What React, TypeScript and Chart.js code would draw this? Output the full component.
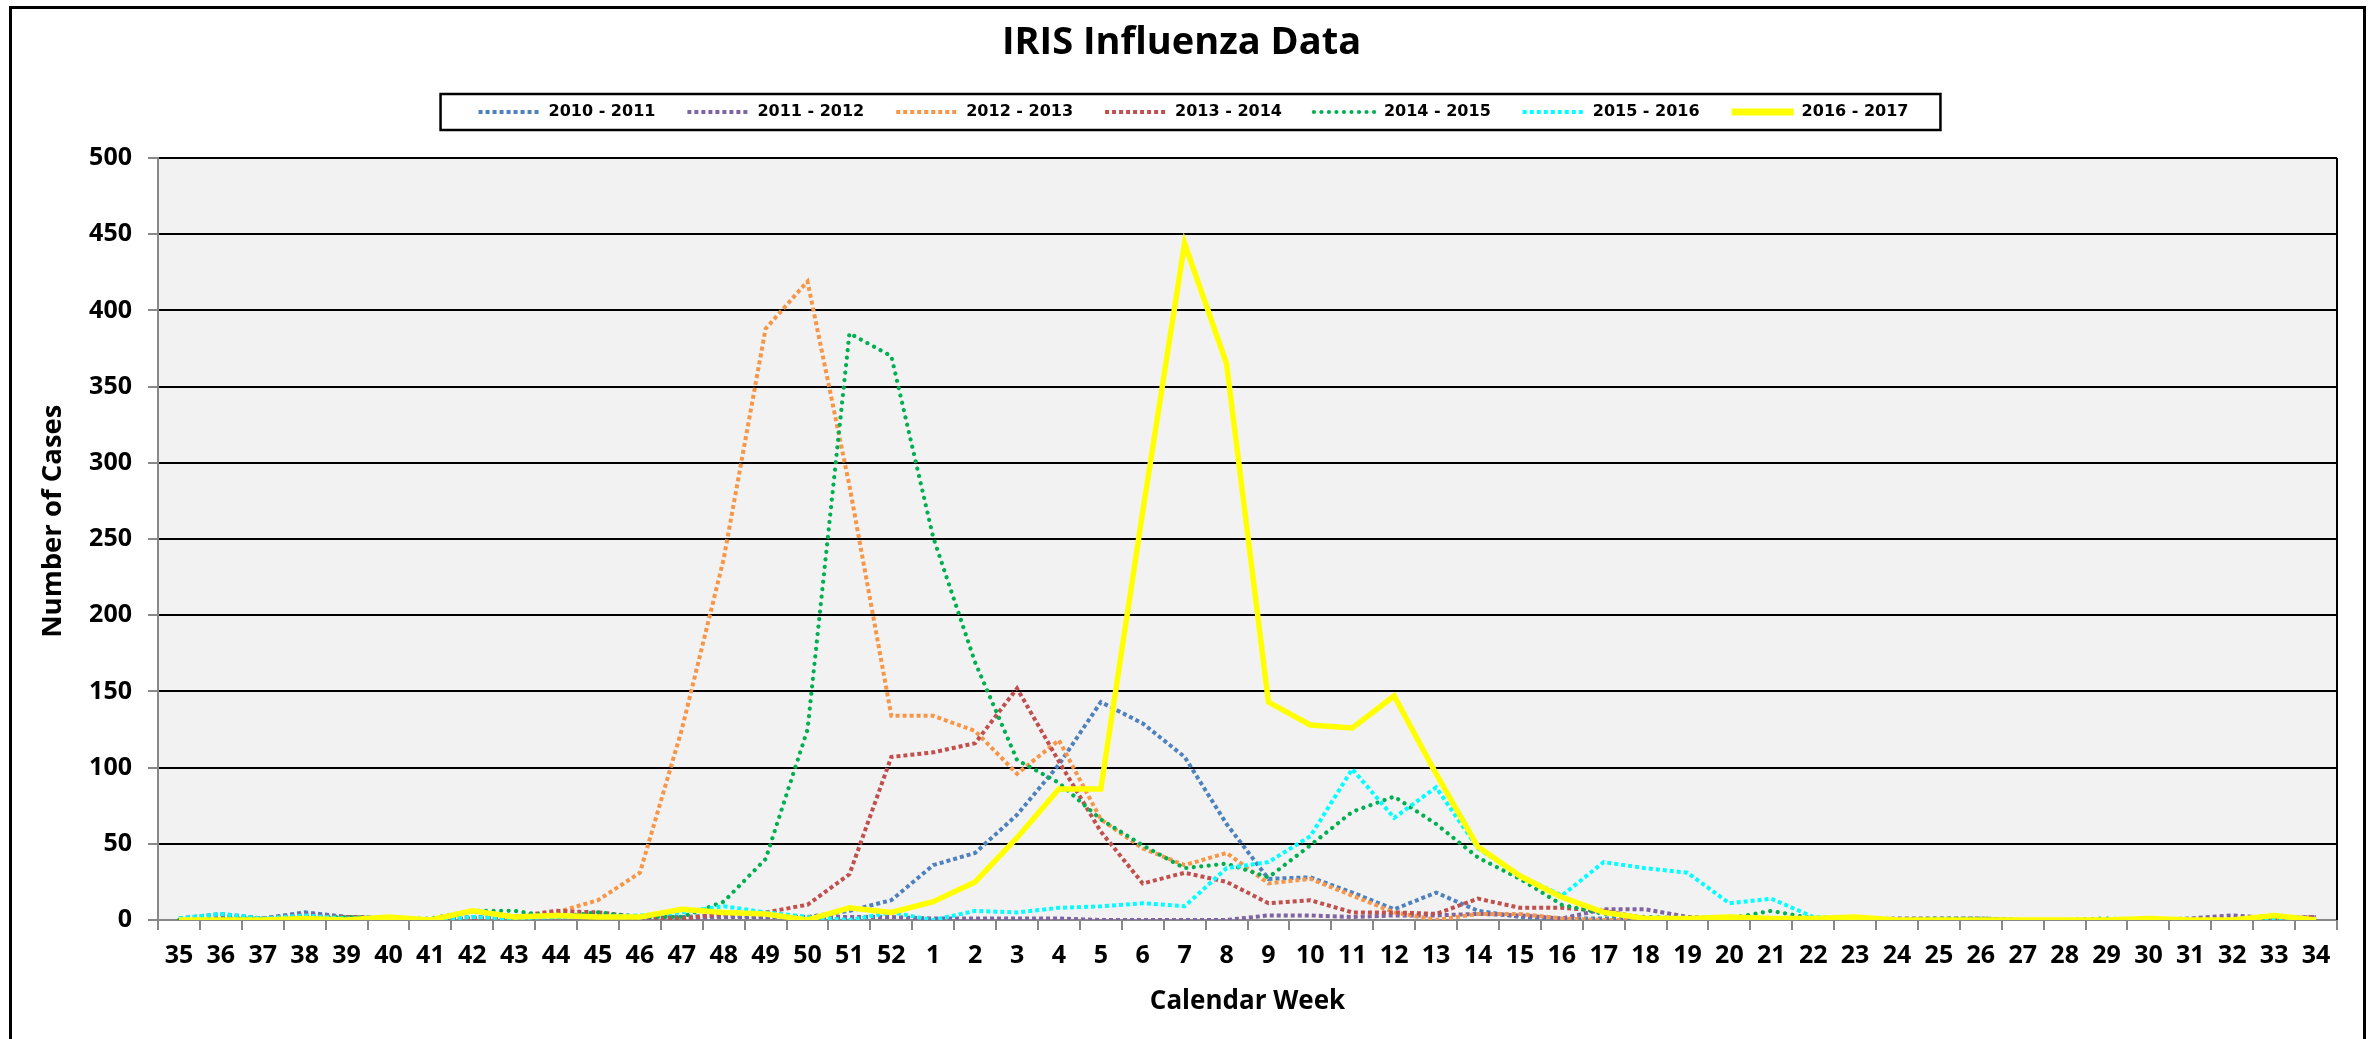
import React, { useEffect, useRef } from 'react';
import { Chart, registerables } from 'chart.js';

Chart.register(...registerables);

const weeks = [
  '35', '36', '37', '38', '39', '40', '41', '42', '43', '44', '45', '46', '47', '48', '49', '50', '51', '52',
  '1', '2', '3', '4', '5', '6', '7', '8', '9', '10', '11', '12', '13', '14', '15', '16', '17',
  '18', '19', '20', '21', '22', '23', '24', '25', '26', '27', '28', '29', '30', '31', '32', '33', '34',
];

const s2010 = [1, 4, 1, 5, 2, 1, 0, 2, 2, 3, 3, 2, 2, 3, 2, 2, 6, 13, 36, 44, 69, 102, 143, 129, 107, 63, 27, 28, 18, 7, 18, 6, 2, 1, 1, 1, 0, 0, 0, 0, 0, 0, 0, 0, 0, 0, 0, 0, 0, 0, 0, 1];
const s2011 = [0, 3, 1, 4, 2, 1, 0, 1, 1, 2, 2, 1, 1, 2, 2, 2, 2, 2, 1, 1, 1, 1, 0, 0, 0, 0, 3, 3, 2, 3, 3, 4, 3, 1, 7, 7, 2, 1, 1, 0, 0, 1, 1, 1, 0, 0, 0, 0, 1, 3, 1, 2];
const s2012 = [0, 1, 0, 1, 1, 0, 0, 1, 2, 5, 13, 31, 125, 237, 388, 419, 285, 134, 134, 124, 96, 118, 66, 47, 36, 44, 24, 27, 16, 5, 0, 4, 4, 1, 0, 0, 0, 0, 0, 0, 0, 0, 0, 0, 0, 0, 0, 0, 0, 0, 0, 0];
const s2013 = [0, 1, 1, 2, 2, 1, 0, 1, 2, 6, 5, 2, 1, 4, 5, 10, 30, 107, 110, 116, 152, 104, 58, 24, 31, 25, 11, 13, 5, 5, 4, 14, 8, 8, 6, 1, 0, 0, 0, 0, 0, 0, 0, 0, 0, 0, 0, 0, 0, 0, 1, 2];
const s2014 = [0, 1, 1, 1, 2, 1, 1, 6, 6, 2, 5, 2, 2, 12, 40, 125, 385, 370, 251, 169, 105, 90, 66, 49, 34, 37, 28, 49, 71, 81, 63, 41, 27, 10, 4, 2, 1, 1, 6, 1, 0, 0, 1, 1, 0, 0, 1, 0, 0, 0, 0, 0];
const s2015 = [1, 4, 1, 3, 1, 1, 0, 2, 1, 2, 2, 3, 5, 9, 5, 2, 0, 5, 0, 6, 5, 8, 9, 11, 9, 34, 38, 55, 99, 67, 87, 47, 29, 16, 38, 34, 31, 11, 14, 2, 1, 0, 0, 0, 0, 0, 0, 0, 0, 0, 0, 0];
const s2016 = [0, 0, 0, 1, 0, 2, 0, 6, 2, 3, 2, 2, 7, 5, 4, 0, 8, 5, 12, 25, 54, 86, 86, 268, 444, 365, 143, 128, 126, 147, 96, 48, 29, 15, 5, 1, 1, 2, 1, 1, 2, 0, 0, 0, 0, 0, 0, 1, 0, 0, 3, 0];

const seriesNames = ['2010 - 2011', '2011 - 2012', '2012 - 2013', '2013 - 2014', '2014 - 2015', '2015 - 2016', '2016 - 2017'];
const seriesColors = ['#4F81BD', '#8064A2', '#F79646', '#C0504D', '#00B050', '#00FFFF', '#FFFF00'];
const seriesData = [s2010, s2011, s2012, s2013, s2014, s2015, s2016];

const LEGEND_SHIFT = 12;

const plotPlugin = {
  id: 'plotDecor',
  afterLayout(chart: any) {
    const lg = chart.legend;
    if (lg) {
      lg.left += LEGEND_SHIFT;
      lg.right += LEGEND_SHIFT;
    }
  },
  beforeDraw(chart: any) {
    const { ctx, chartArea: a } = chart;
    ctx.save();
    ctx.fillStyle = '#F2F2F2';
    ctx.fillRect(a.left, a.top, a.right - a.left, a.bottom - a.top);
    ctx.restore();
  },
  afterDraw(chart: any) {
    const { ctx, chartArea: a } = chart;
    ctx.save();
    ctx.strokeStyle = '#000';
    ctx.lineWidth = 2;
    ctx.beginPath();
    ctx.moveTo(a.right, a.top);
    ctx.lineTo(a.right, a.bottom);
    ctx.stroke();
    const lg = chart.legend;
    if (lg && lg.legendHitBoxes && lg.legendHitBoxes.length) {
      let minX = Infinity, maxX = -Infinity, minY = Infinity, maxY = -Infinity;
      lg.legendHitBoxes.forEach((b: any) => {
        minX = Math.min(minX, b.left);
        maxX = Math.max(maxX, b.left + b.width);
        minY = Math.min(minY, b.top);
        maxY = Math.max(maxY, b.top + b.height);
      });
      const cy = (minY + maxY) / 2;
      ctx.lineWidth = 2.5;
      ctx.strokeStyle = '#000';
      ctx.strokeRect(minX - 38, cy - 18, maxX - minX + 70, 36);
    }
    ctx.restore();
  },
};

export default function App() {
  const ref = useRef<HTMLCanvasElement | null>(null);

  useEffect(() => {
    if (!ref.current) return;
    const datasets = seriesData.map((d, i) => {
      const isLast = i === seriesData.length - 1;
      const isGreen = i === 4;
      return {
        label: seriesNames[i],
        data: d,
        borderColor: seriesColors[i],
        backgroundColor: seriesColors[i],
        borderWidth: isLast ? 5.5 : isGreen ? 4.2 : 4,
        borderDash: isLast ? [] : isGreen ? [0.01, 7.5] : [4, 3],
        borderCapStyle: isGreen ? 'round' : 'butt',
        pointRadius: 0,
        pointHoverRadius: 0,
        tension: 0,
        fill: false,
        order: seriesData.length - 1 - i,
      };
    });

    const tickFont = { family: 'Open Sans', size: 25, weight: 'bold' as const };
    const baseGen = (Chart as any).defaults.plugins.legend.labels.generateLabels;

    const chart = new Chart(ref.current, {
      type: 'line',
      data: { labels: weeks, datasets: datasets as any },
      plugins: [plotPlugin],
      options: {
        animation: false,
        responsive: false,
        devicePixelRatio: 1,
        layout: { padding: { left: 14, right: 26, top: 0, bottom: 0 } },
        plugins: {
          title: {
            display: true,
            text: 'IRIS Influenza Data',
            color: '#000',
            font: { family: 'Open Sans', size: 38, weight: 'bold' },
            padding: { top: 11, bottom: 6.4 },
          },
          subtitle: {
            display: true,
            text: ' ',
            font: { size: 10 },
            padding: { top: 8, bottom: 8 },
            weight: 500,
          } as any,
          legend: {
            display: true,
            position: 'top',
            labels: {
              color: '#000',
              font: { family: 'DejaVu Sans', size: 16, weight: 'bold' },
              padding: 32,
              usePointStyle: true,
              pointStyle: 'line',
              pointStyleWidth: 62,
              sort: (a: any, b: any) => a.datasetIndex - b.datasetIndex,
              generateLabels: (ch: any) => {
                const items = baseGen(ch);
                return items.map((it: any) => {
                  const ds = ch.data.datasets[it.datasetIndex];
                  return {
                    ...it,
                    lineDash: ds.borderDash,
                    lineCap: ds.borderCapStyle,
                    lineWidth: it.datasetIndex === 6 ? 7 : ds.borderWidth,
                    strokeStyle: ds.borderColor,
                    fillStyle: ds.borderColor,
                  };
                });
              },
            },
          },
          tooltip: { enabled: false },
        },
        scales: {
          x: {
            type: 'category',
            offset: true,
            grid: {
              display: true,
              drawOnChartArea: false,
              drawTicks: true,
              tickLength: 10,
              color: '#888',
              tickColor: '#888',
              lineWidth: 2,
              offset: true,
            },
            border: { display: true, color: '#888', width: 2 },
            ticks: { color: '#000', font: tickFont, padding: 11, autoSkip: false, maxRotation: 0, minRotation: 0 },
            title: {
              display: true,
              text: 'Calendar Week',
              color: '#000',
              font: { family: 'Open Sans', size: 26, weight: 'bold' },
              padding: { top: 0, bottom: 26 },
            },
            afterFit: (s: any) => { s.height = 123; },
          },
          y: {
            min: 0,
            max: 500,
            grid: { color: '#000', lineWidth: 2, tickColor: '#888', tickLength: 10, drawTicks: true },
            border: { display: true, color: '#888', width: 2 },
            ticks: { stepSize: 50, color: '#000', font: tickFont, padding: 16 },
            title: {
              display: true,
              text: '     Number of Cases',
              color: '#000',
              font: { family: 'Open Sans', size: 27.5, weight: 'bold' },
              padding: { top: 10.5, bottom: 0 },
            },
            afterFit: (s: any) => { s.width = 132; },
          },
        },
      } as any,
    });
    return () => chart.destroy();
  }, []);

  return (
    <div
      style={{
        position: 'fixed',
        left: 9,
        top: 6,
        width: 2357,
        height: 1040,
        border: '3px solid #000',
        boxSizing: 'border-box',
        background: '#fff',
        overflow: 'hidden',
      }}
    >
      <canvas ref={ref} width={2351} height={1034} style={{ display: 'block', width: 2351, height: 1034 }} />
    </div>
  );
}
